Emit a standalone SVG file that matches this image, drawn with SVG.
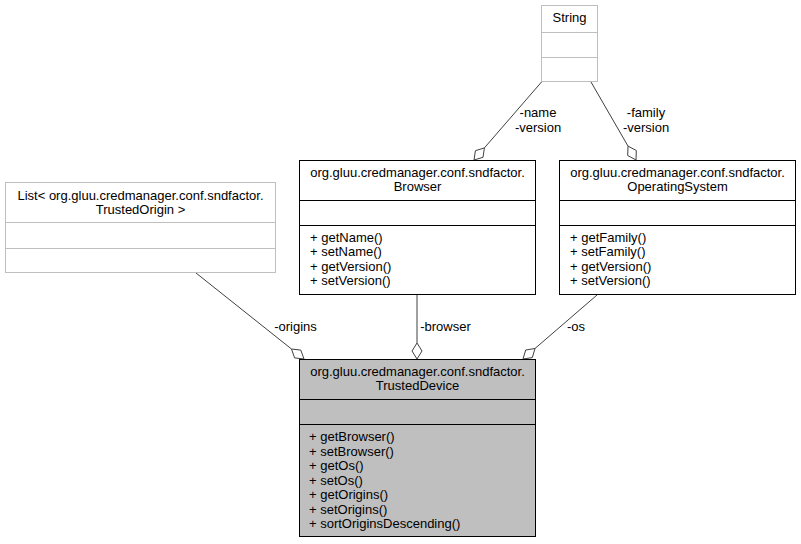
<svg xmlns="http://www.w3.org/2000/svg" width="801" height="544" viewBox="0 0 801 544">
<style>
text{font-family:"Liberation Sans",Arial,sans-serif;font-size:13px;fill:#000}
.c{text-anchor:middle}
.box{fill:#fff;stroke:#000;stroke-width:1}
.gbox{fill:#fff;stroke:#bfbfbf;stroke-width:1}
.sel{fill:#bfbfbf;stroke:#000;stroke-width:1}
.dv{stroke:#000;stroke-width:1}
.gdv{stroke:#bfbfbf;stroke-width:1}
.ln{stroke:#404040;stroke-width:1;fill:none}
.dm{fill:#fff;stroke:#404040;stroke-width:1}
</style>
<rect width="801" height="544" fill="#fff"/>
<g id="edges">
<line class="ln" x1="417" y1="294.5" x2="417" y2="343"/>
<polygon class="dm" points="417,359 422,351 417,343 412,351"/>
<text class="c" x="445.5" y="331">-browser</text>
<line class="ln" x1="196" y1="273" x2="291.5" y2="349"/>
<polygon class="dm" points="304,359 294.6,357.9 291.5,349 300.8,350.1"/>
<text class="c" x="295.5" y="331">-origins</text>
<line class="ln" x1="597" y1="295" x2="535" y2="348.5"/>
<polygon class="dm" points="523,359 532.3,357.6 535,348.5 525.7,350"/>
<text class="c" x="576" y="331">-os</text>
<line class="ln" x1="541.5" y1="82" x2="484.4" y2="147.9"/>
<polygon class="dm" points="474,160 483,157.3 484.4,147.9 475.4,150.7"/>
<text class="c" x="538" y="117">-name</text>
<text class="c" x="538" y="131.5">-version</text>
<line class="ln" x1="591" y1="82" x2="628" y2="146.1"/>
<polygon class="dm" points="636,160 636.3,150.5 628,146.1 627.7,155.5"/>
<text class="c" x="646" y="117">-family</text>
<text class="c" x="646" y="131.5">-version</text>
</g>
<g id="String">
<rect class="gbox" x="541.5" y="5.5" width="56" height="76"/>
<line class="gdv" x1="541.5" y1="32.5" x2="597.5" y2="32.5"/>
<line class="gdv" x1="541.5" y1="57.5" x2="597.5" y2="57.5"/>
<text class="c" x="569.5" y="22">String</text>
</g>
<g id="ListTrustedOrigin">
<rect class="gbox" x="5.5" y="182.5" width="270" height="90"/>
<line class="gdv" x1="5.5" y1="222.5" x2="275.5" y2="222.5"/>
<line class="gdv" x1="5.5" y1="248.5" x2="275.5" y2="248.5"/>
<text class="c" x="140.5" y="199.5">List&lt; org.gluu.credmanager.conf.sndfactor.</text>
<text class="c" x="140.5" y="213.5">TrustedOrigin &gt;</text>
</g>
<g id="Browser">
<rect class="box" x="299.5" y="160.5" width="236" height="134"/>
<line class="dv" x1="299.5" y1="200.5" x2="535.5" y2="200.5"/>
<line class="dv" x1="299.5" y1="225.5" x2="535.5" y2="225.5"/>
<text class="c" x="417.5" y="177">org.gluu.credmanager.conf.sndfactor.</text>
<text class="c" x="417.5" y="191">Browser</text>
<text x="310" y="241.5">+ getName()</text>
<text x="310" y="256">+ setName()</text>
<text x="310" y="270.5">+ getVersion()</text>
<text x="310" y="285">+ setVersion()</text>
</g>
<g id="OperatingSystem">
<rect class="box" x="559.5" y="160.5" width="236" height="134"/>
<line class="dv" x1="559.5" y1="200.5" x2="795.5" y2="200.5"/>
<line class="dv" x1="559.5" y1="225.5" x2="795.5" y2="225.5"/>
<text class="c" x="677.5" y="177">org.gluu.credmanager.conf.sndfactor.</text>
<text class="c" x="677.5" y="191">OperatingSystem</text>
<text x="570" y="241.5">+ getFamily()</text>
<text x="570" y="256">+ setFamily()</text>
<text x="570" y="270.5">+ getVersion()</text>
<text x="570" y="285">+ setVersion()</text>
</g>
<g id="TrustedDevice">
<rect class="sel" x="299.5" y="359.5" width="236" height="177"/>
<line class="dv" x1="299.5" y1="399.5" x2="535.5" y2="399.5"/>
<line class="dv" x1="299.5" y1="424.5" x2="535.5" y2="424.5"/>
<text class="c" x="417.5" y="376">org.gluu.credmanager.conf.sndfactor.</text>
<text class="c" x="417.5" y="390">TrustedDevice</text>
<text x="309" y="441.3">+ getBrowser()</text>
<text x="309" y="455.8">+ setBrowser()</text>
<text x="309" y="470.2">+ getOs()</text>
<text x="309" y="484.7">+ setOs()</text>
<text x="309" y="499.1">+ getOrigins()</text>
<text x="309" y="513.6">+ setOrigins()</text>
<text x="309" y="528">+ sortOriginsDescending()</text>
</g>
</svg>
